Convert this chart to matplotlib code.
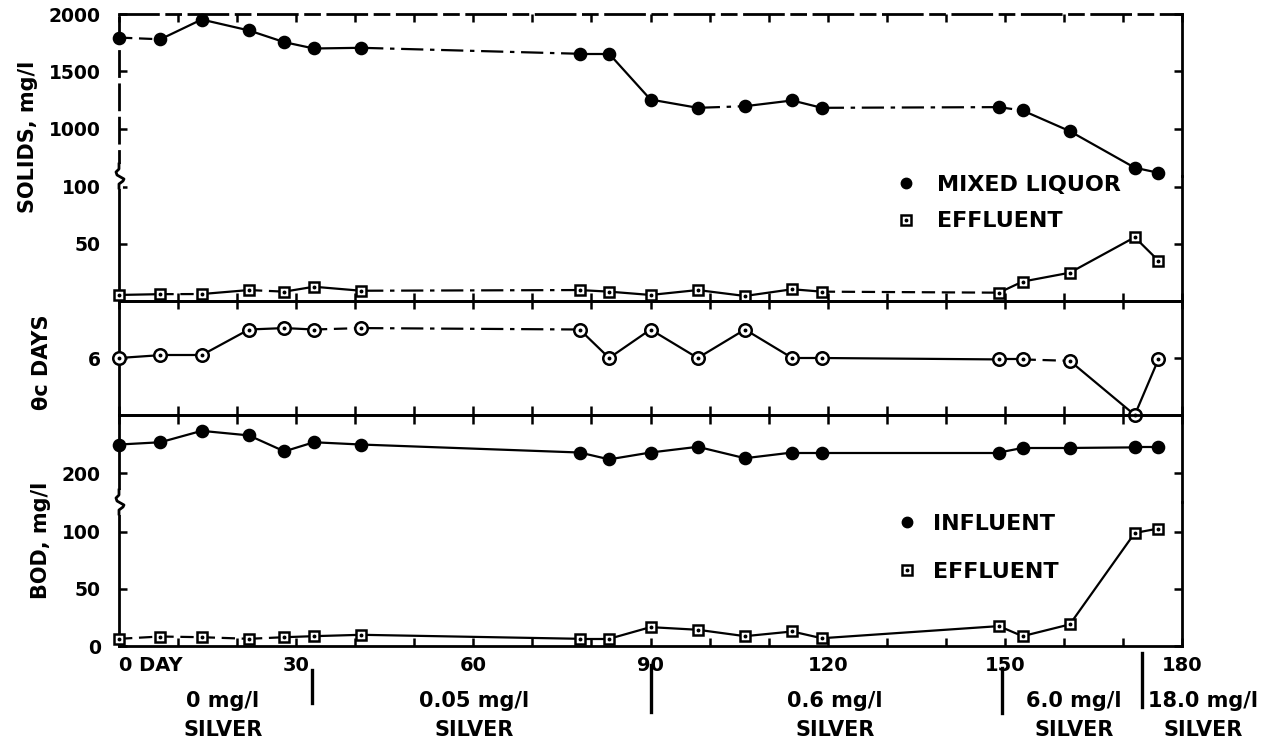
import matplotlib
matplotlib.use("Agg")
import matplotlib.pyplot as plt
from matplotlib.lines import Line2D

# ---- data -------------------------------------------------------------
days = [0, 7, 14, 22, 28, 33, 41, 78, 83, 90, 98, 106, 114, 119, 149, 153, 161, 172, 176]

solids_mixed_liquor = [1795, 1780, 1952, 1857, 1755, 1700, 1706, 1654, 1654, 1256,
                       1184, 1198, 1248, 1184, 1190, 1161, 981, 663, 619]
solids_effluent = [5.3, 6.0, 6.1, 9.6, 8.2, 12.5, 9.0, 9.6, 8.2, 5.3,
                   9.6, 4.4, 10.3, 8.2, 7.3, 17.0, 24.8, 55.9, 35.4]
theta_c_days = [6.0, 6.1, 6.1, 7.0, 7.05, 7.0, 7.05, 7.0, 6.0, 7.0,
                6.0, 7.0, 6.0, 6.0, 5.95, 5.95, 5.9, 4.0, 5.95]
bod_influent = [225, 227, 237, 233, 219, 227, 225, 218, 212, 218,
                223, 213, 218, 218, 218, 222, 222, 222.5, 222.5]
bod_effluent = [6.3, 8.3, 7.7, 6.3, 7.7, 8.6, 9.8, 6.3, 6.3, 16.5,
                14.2, 8.6, 12.7, 6.8, 17.4, 8.6, 18.9, 98.9, 102.8]

day_ticks = [0, 30, 60, 90, 120, 150, 180]
day_tick_labels = ["0 DAY", "30", "60", "90", "120", "150", "180"]
silver_change_days = [32.7, 90.1, 149.6, 173.2]
silver_doses = ["0 mg/l", "0.05 mg/l", "0.6 mg/l", "6.0 mg/l", "18.0 mg/l"]

# ---- figure layout (pixel geometry) ------------------------------------
W, H = 1268, 743
plt.rcParams["font.family"] = ["DejaVu Sans"]
plt.rcParams["font.weight"] = "bold"
fig = plt.figure(figsize=(W / 100, H / 100), dpi=100)
fig.patch.set_facecolor("white")

LEFT, RIGHT = 119, 1182


def panel(top, bottom):
    return fig.add_axes([LEFT / W, (H - bottom) / H, (RIGHT - LEFT) / W, (bottom - top) / H])


ax_s_hi = panel(14, 176)
ax_s_lo = panel(176, 301)
ax_t = panel(301, 415)
ax_b_hi = panel(415, 502)
ax_b_lo = panel(502, 646)
axes = [ax_s_hi, ax_s_lo, ax_t, ax_b_hi, ax_b_lo]

ax_s_hi.set_ylim(591, 2000)
ax_s_lo.set_ylim(0, 109.6)
ax_t.set_ylim(4, 8)
ax_b_hi.set_ylim(174.6, 250.9)
ax_b_lo.set_ylim(0, 126)

SPINE_W = 2.0
TICK_FS = 13.5
for ax in axes:
    ax.set_xlim(0, 180)
    ax.patch.set_alpha(0)
    for s in ax.spines.values():
        s.set_linewidth(SPINE_W)
    ax.tick_params(axis="y", which="both", direction="in", left=True, right=True,
                   length=6, width=1.8, labelsize=TICK_FS, pad=13)
    ax.tick_params(axis="x", which="both", bottom=False, top=False, labelbottom=False)
    ax.set_xticks(range(0, 181, 10))

ax_s_hi.spines["bottom"].set_visible(False)
ax_s_lo.spines["top"].set_visible(False)
ax_b_hi.spines["bottom"].set_visible(False)
ax_b_lo.spines["top"].set_visible(False)

# photocopied look of the upper frame lines
ax_s_hi.spines["top"].set_linestyle((0, (14, 3, 5, 3)))
ax_s_hi.spines["left"].set_linestyle((0, (9, 3)))

ax_s_hi.set_yticks([1000, 1500, 2000])
ax_s_lo.set_yticks([50, 100])
ax_t.set_yticks([6])
ax_b_hi.set_yticks([200])
ax_b_lo.set_yticks([0, 50, 100])

ax_s_hi.tick_params(axis="x", top=True, direction="in", length=6, width=1.8)
ax_s_lo.tick_params(axis="x", bottom=True, direction="inout", length=11, width=1.8)
ax_t.tick_params(axis="x", bottom=True, direction="inout", length=13, width=1.8)
ax_b_lo.tick_params(axis="x", which="both", bottom=True, direction="in", length=6,
                    width=1.8, labelbottom=True, labelsize=14, pad=7)
ax_b_lo.set_xticks(day_ticks, day_tick_labels)
ax_b_lo.set_xticks(range(0, 181, 10), minor=True)
ax_b_lo.get_xticklabels()[0].set_horizontalalignment("left")

# ---- series ----------------------------------------------------------
S = "-"
D = (0, (6, 3))
DD = (0, (10, 3, 2, 3))

LW = 1.6


def draw_series(ax, x, y, styles, marker, ms, filled, dot=False):
    for i in range(len(x) - 1):
        ax.plot(x[i:i + 2], y[i:i + 2], color="black", lw=LW, ls=styles[i],
                solid_capstyle="butt", zorder=3)
    face = "black" if filled else "white"
    ax.plot(x, y, ls="none", marker=marker, ms=ms, mfc=face, mec="black",
            mew=1.8, clip_on=False, zorder=5)
    if dot:
        ax.plot(x, y, ls="none", marker="o", ms=1.8, mfc="black", mec="black",
                clip_on=False, zorder=6)


draw_series(ax_s_hi, days, solids_mixed_liquor,
            [D, S, S, S, S, S, DD, S, S, S, DD, S, S, DD, D, S, S, S], "o", 8, True)
draw_series(ax_s_lo, days, solids_effluent,
            [S, D, S, D, S, S, DD, S, S, S, S, S, S, D, S, S, S, S], "s", 7.2, False, dot=True)
draw_series(ax_t, days, theta_c_days,
            [S, S, S, S, S, D, DD, S, S, S, S, S, S, S, S, D, S, S], "o", 9, False, dot=True)
draw_series(ax_b_hi, days, bod_influent, [S] * 18, "o", 8, True)
draw_series(ax_b_lo, days, bod_effluent,
            [D, D, D, D, S, S, S, S, S, S, S, S, S, S, S, S, S, S], "s", 7.2, False, dot=True)

# ---- axis breaks on the left frame -----------------------------------
def axis_break(y_px):
    def f(dx, dy):
        return ((LEFT + dx) / W, (H - (y_px + dy)) / H)
    xs, ys = zip(*[f(0, -9), f(0, 9)])
    fig.add_artist(Line2D(xs, ys, color="white", lw=5, zorder=10))
    pts = [f(0, -12), f(0, -7), f(-3, -4), f(-2, -1), f(5, 3), f(4, 5), f(0, 8), f(0, 12)]
    xs, ys = zip(*pts)
    fig.add_artist(Line2D(xs, ys, color="black", lw=SPINE_W, zorder=11))


axis_break(176)
axis_break(502)

# ---- axis titles -----------------------------------------------------
LBL_FS = 15
fig.text(28 / W, 1 - 137 / H, "SOLIDS, mg/l", rotation=90, ha="center", va="center", fontsize=LBL_FS)
fig.text(42 / W, 1 - 362 / H, "θc DAYS", rotation=90, ha="center", va="center", fontsize=LBL_FS)
fig.text(41 / W, 1 - 540 / H, "BOD, mg/l", rotation=90, ha="center", va="center", fontsize=LBL_FS)

# ---- legends ---------------------------------------------------------
def dotted_square():
    return (Line2D([], [], ls="none", marker="s", ms=7.0, mfc="white", mec="black", mew=1.8),
            Line2D([], [], ls="none", marker="o", ms=1.8, mfc="black", mec="black"))


solid_dot = Line2D([], [], ls="none", marker="o", ms=7.5, mfc="black", mec="black")
fig.legend([solid_dot, dotted_square()], ["MIXED LIQUOR", "EFFLUENT"],
           loc="center left", bbox_to_anchor=(895 / W, 1 - 203 / H), frameon=False,
           handlelength=1.0, handletextpad=0.9, borderpad=0, borderaxespad=0,
           labelspacing=0.75, prop=dict(size=16, weight="bold"))
fig.legend([Line2D([], [], ls="none", marker="o", ms=7.5, mfc="black", mec="black"),
            dotted_square()], ["INFLUENT", "EFFLUENT"],
           loc="center left", bbox_to_anchor=(896 / W, 1 - 548 / H), frameon=False,
           handlelength=1.0, handletextpad=0.65, borderpad=0, borderaxespad=0,
           labelspacing=1.25, prop=dict(size=16, weight="bold"))

# ---- silver dosing periods -------------------------------------------
bar_spans = [(670, 703), (665, 712), (668, 713), (653, 707)]
for d, (y0, y1) in zip(silver_change_days, bar_spans):
    xf = LEFT / W + d / 180 * (RIGHT - LEFT) / W
    fig.add_artist(Line2D([xf, xf], [1 - y0 / H, 1 - y1 / H], color="black", lw=2.4))

dose_label_px = [223, 474, 835, 1074, 1203]
for xp, dose in zip(dose_label_px, silver_doses):
    fig.text(xp / W, 1 - 701 / H, dose, ha="center", va="center", fontsize=15)
    fig.text(xp / W, 1 - 730 / H, "SILVER", ha="center", va="center", fontsize=15)

fig.savefig("out.png", dpi=100, facecolor="white")
